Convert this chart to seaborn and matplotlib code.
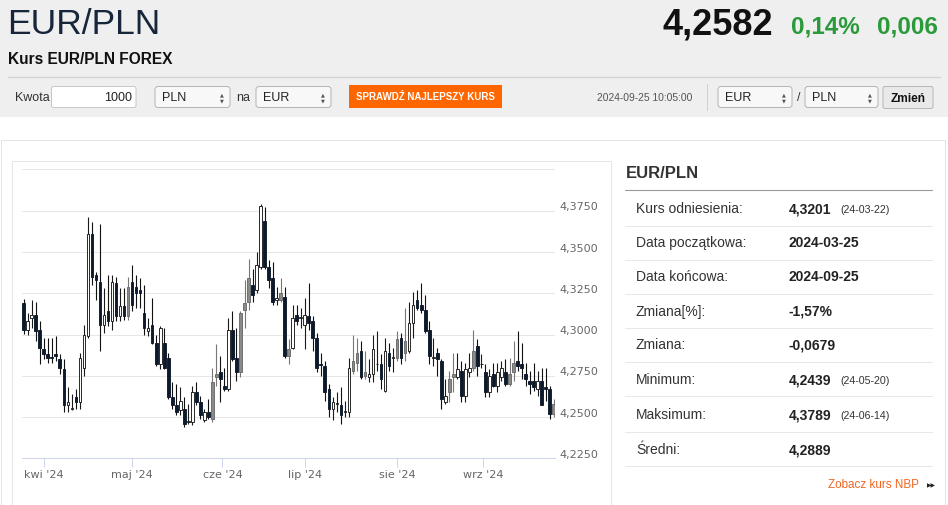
import numpy as np
import pandas as pd
import matplotlib
matplotlib.use("Agg")
import matplotlib.pyplot as plt
import matplotlib.transforms as mtransforms
from matplotlib.patches import Rectangle, FancyBboxPatch
import seaborn as sns

# ---------------- data ----------------
opens = [4.3194, 4.3030, 4.3100, 4.3120, 4.3030, 4.2910, 4.2880, 4.2865, 4.2880, 4.2850,
         4.2790, 4.2570, 4.2550, 4.2620, 4.2590, 4.2800, 4.2990, 4.3610, 4.3360, 4.3320,
         4.3060, 4.3140, 4.3080, 4.3310, 4.3110, 4.3170, 4.3110, 4.3320, 4.3290, 4.3270,
         4.3130, 4.3020, 4.3060, 4.2950, 4.2820, 4.2950, 4.2860, 4.2620, 4.2570, 4.2540,
         4.2550, 4.2470, 4.2470, 4.2650, 4.2590, 4.2480, 4.2530, 4.2490, 4.2740, 4.2770,
         4.2690, 4.2670, 4.3030, 4.2860, 4.2770, 4.3150, 4.3200, 4.3300, 4.3270, 4.3410,
         4.3690, 4.3410, 4.3340, 4.3210, 4.3210, 4.3230, 4.2870, 4.2920, 4.3120, 4.3100,
         4.3060, 4.3110, 4.3080, 4.2980, 4.2820, 4.2810, 4.2670, 4.2550, 4.2580, 4.2570,
         4.2530, 4.2530, 4.2780, 4.2830, 4.2900, 4.2750, 4.2740, 4.2760, 4.2820, 4.2820,
         4.2660, 4.2890, 4.2860, 4.2860, 4.2980, 4.2890, 4.2900, 4.3070, 4.3210, 4.3180,
         4.3150, 4.3030, 4.2860, 4.2890, 4.2840, 4.2590, 4.2650, 4.2740, 4.2740, 4.2780,
         4.2630, 4.2770, 4.2800, 4.2930, 4.2820, 4.2770, 4.2650, 4.2760, 4.2690, 4.2740,
         4.2770, 4.2700, 4.2770, 4.2840, 4.2820, 4.2760, 4.2720, 4.2720, 4.2670, 4.2720,
         4.2680, 4.2670, 4.2520]
highs = [4.3218, 4.3130, 4.3210, 4.3200, 4.3080, 4.2980, 4.2980, 4.2980, 4.2990, 4.2880,
         4.2850, 4.2680, 4.2640, 4.2670, 4.2890, 4.3060, 4.3710, 4.3680, 4.3380, 4.3670,
         4.3280, 4.3360, 4.3360, 4.3350, 4.3280, 4.3280, 4.3350, 4.3420, 4.3360, 4.3340,
         4.3300, 4.3100, 4.3220, 4.3000, 4.3050, 4.3040, 4.2890, 4.2710, 4.2700, 4.2680,
         4.2620, 4.2580, 4.2690, 4.2710, 4.2630, 4.2550, 4.2610, 4.2800, 4.2940, 4.2870,
         4.2800, 4.3100, 4.3140, 4.3040, 4.3140, 4.3330, 4.3460, 4.3400, 4.3500, 4.3789,
         4.3775, 4.3450, 4.3440, 4.3290, 4.3340, 4.3290, 4.2970, 4.3180, 4.3180, 4.3160,
         4.3220, 4.3315, 4.3110, 4.3010, 4.2890, 4.2840, 4.2700, 4.2620, 4.2650, 4.2680,
         4.2600, 4.2860, 4.3000, 4.2980, 4.2960, 4.2900, 4.2850, 4.3000, 4.3020, 4.2880,
         4.2980, 4.2950, 4.2920, 4.3020, 4.3010, 4.3160, 4.3200, 4.3260, 4.3270, 4.3310,
         4.3240, 4.3080, 4.2980, 4.2920, 4.2850, 4.2730, 4.2780, 4.2890, 4.2890, 4.2840,
         4.2830, 4.2890, 4.3030, 4.2970, 4.2880, 4.2820, 4.2790, 4.2830, 4.2830, 4.2840,
         4.2850, 4.2860, 4.2960, 4.3020, 4.2950, 4.2830, 4.2780, 4.2830, 4.2780, 4.2800,
         4.2800, 4.2690, 4.2610]
lows = [4.3006, 4.3000, 4.3040, 4.2960, 4.2820, 4.2850, 4.2830, 4.2830, 4.2840, 4.2760,
        4.2530, 4.2530, 4.2540, 4.2550, 4.2550, 4.2750, 4.2980, 4.3300, 4.3210, 4.2900,
        4.3010, 4.3050, 4.3030, 4.3080, 4.3080, 4.3090, 4.3090, 4.3140, 4.3160, 4.3160,
        4.3000, 4.2990, 4.2940, 4.2810, 4.2790, 4.2790, 4.2610, 4.2550, 4.2510, 4.2510,
        4.2439, 4.2460, 4.2450, 4.2570, 4.2490, 4.2470, 4.2490, 4.2470, 4.2690, 4.2590,
        4.2660, 4.2660, 4.2840, 4.2720, 4.2740, 4.3040, 4.3150, 4.3200, 4.3250, 4.3400,
        4.3400, 4.3280, 4.3180, 4.3180, 4.3200, 4.2860, 4.2820, 4.2910, 4.3060, 4.3040,
        4.2910, 4.3030, 4.2900, 4.2770, 4.2750, 4.2600, 4.2500, 4.2480, 4.2530, 4.2460,
        4.2500, 4.2500, 4.2760, 4.2780, 4.2730, 4.2730, 4.2710, 4.2710, 4.2780, 4.2670,
        4.2650, 4.2780, 4.2770, 4.2840, 4.2820, 4.2840, 4.2890, 4.2980, 4.3150, 4.3130,
        4.3010, 4.2820, 4.2810, 4.2750, 4.2550, 4.2580, 4.2590, 4.2650, 4.2730, 4.2590,
        4.2590, 4.2740, 4.2780, 4.2750, 4.2800, 4.2620, 4.2620, 4.2680, 4.2650, 4.2720,
        4.2690, 4.2690, 4.2720, 4.2780, 4.2730, 4.2690, 4.2640, 4.2660, 4.2630, 4.2570,
        4.2600, 4.2490, 4.2500]
closes = [4.3026, 4.3080, 4.3120, 4.3020, 4.2920, 4.2880, 4.2860, 4.2860, 4.2870, 4.2800,
          4.2570, 4.2590, 4.2553, 4.2590, 4.2860, 4.3000, 4.3610, 4.3350, 4.3330, 4.3060,
          4.3120, 4.3080, 4.3320, 4.3110, 4.3170, 4.3110, 4.3290, 4.3180, 4.3250, 4.3250,
          4.3040, 4.3040, 4.2950, 4.2820, 4.3040, 4.2800, 4.2620, 4.2570, 4.2530, 4.2600,
          4.2460, 4.2472, 4.2650, 4.2590, 4.2510, 4.2530, 4.2500, 4.2710, 4.2760, 4.2730,
          4.2670, 4.3030, 4.2850, 4.2770, 4.3130, 4.3190, 4.3340, 4.3240, 4.3420, 4.3780,
          4.3410, 4.3330, 4.3200, 4.3220, 4.3250, 4.2870, 4.2910, 4.3100, 4.3080, 4.3100,
          4.3120, 4.3070, 4.2980, 4.2800, 4.2818, 4.2650, 4.2550, 4.2590, 4.2582, 4.2510,
          4.2532, 4.2800, 4.2840, 4.2890, 4.2740, 4.2770, 4.2760, 4.2910, 4.2822, 4.2730,
          4.2900, 4.2810, 4.2862, 4.2970, 4.2860, 4.2960, 4.3070, 4.3180, 4.3160, 4.3150,
          4.3020, 4.2870, 4.2862, 4.2850, 4.2610, 4.2630, 4.2730, 4.2760, 4.2790, 4.2630,
          4.2790, 4.2800, 4.2900, 4.2810, 4.2822, 4.2650, 4.2750, 4.2690, 4.2770, 4.2800,
          4.2700, 4.2760, 4.2830, 4.2810, 4.2800, 4.2730, 4.2700, 4.2680, 4.2720, 4.2570,
          4.2670, 4.2520, 4.2582]
# candles drawn grey in the reference
grey_days = [26, 47, 48, 54, 55, 56, 64, 66, 82, 83, 85, 93, 95, 106, 107, 112, 121, 122, 132]

month_starts = ["2024-04-01", "2024-05-01", "2024-06-01", "2024-07-01", "2024-08-01", "2024-09-01"]
month_labels = ["kwi '24", "maj '24", "cze '24", "lip '24", "sie '24", "wrz '24"]
ytick_values = [4.225, 4.25, 4.275, 4.30, 4.325, 4.35, 4.375, 4.40]

dates = pd.bdate_range("2024-03-25", "2024-09-25")
df = pd.DataFrame({"date": dates, "open": opens, "high": highs, "low": lows, "close": closes})
df["pos"] = np.arange(len(df))

panel_labels = ["Kurs odniesienia:", "Data początkowa:", "Data końcowa:", "Zmiana[%]:",
                "Zmiana:", "Minimum:", "Maksimum:", "Średni:"]
panel_values = ["4,3201", "2024-03-25", "2024-09-25", "-1,57%", "-0,0679", "4,2439", "4,3789", "4,2889"]
panel_dates = ["(24-03-22)", "", "", "", "", "(24-05-20)", "(24-06-14)", ""]

# ---------------- figure ----------------
sns.set_theme(style="white")
plt.rcParams["font.family"] = ["DejaVu Sans"]
W, H = 948, 506
fig = plt.figure(figsize=(W / 100, H / 100), dpi=100)
fig.patch.set_facecolor("white")
PX = mtransforms.Affine2D().scale(1 / W, -1 / H).translate(0, 1) + fig.transFigure
LIB = ["Liberation Sans", "DejaVu Sans"]


def rect(x0, y0, x1, y1, rounding=0, **kw):
    if rounding:
        p = FancyBboxPatch((x0, y0), x1 - x0, y1 - y0,
                           boxstyle=f"round,pad=0,rounding_size={rounding}",
                           transform=PX, **kw)
    else:
        p = Rectangle((x0, y0), x1 - x0, y1 - y0, transform=PX, **kw)
    fig.patches.append(p)


def line(x0, y0, x1, y1, color, lw=0.72):
    fig.add_artist(plt.Line2D([x0, x1], [y0, y1], transform=PX, color=color, lw=lw))


def txt(x, y, s, **kw):
    kw.setdefault("family", LIB)
    kw.setdefault("va", "center")
    fig.text(x, y, s, transform=PX, **kw)


# header
rect(0, 0, W, 118, facecolor="#efefef", edgecolor="none")
txt(7, 24, "EUR/PLN", fontsize=25.5, color="#17263a")
txt(773, 25, "4,2582", fontsize=26, weight="bold", color="#111111", ha="right")
txt(860, 27, "0,14%", fontsize=17.5, weight="bold", color="#2a9a3a", ha="right")
txt(938, 27, "0,006", fontsize=17.5, weight="bold", color="#2a9a3a", ha="right")
txt(8, 60, "Kurs EUR/PLN FOREX", fontsize=11.2, weight="bold", color="#111111")
line(8, 77.5, 940, 77.5, "#d2d2d2", lw=0.9)

txt(15, 98, "Kwota", fontsize=9, color="#333333")
rect(51.5, 87.5, 136, 108.5, rounding=2, facecolor="white", edgecolor="#c8c8c8", lw=0.72)
txt(132, 98, "1000", fontsize=9, color="#222222", ha="right")


def select(x0, x1, label):
    rect(x0, 87.5, x1, 108.5, rounding=3, facecolor="#f8f8f8", edgecolor="#b5b5b5", lw=0.72)
    txt(x0 + 7, 98, label, fontsize=9, color="#222222")
    txt(x1 - 8, 95, "▲", fontsize=3.6, color="#555555", ha="center", family=["DejaVu Sans"])
    txt(x1 - 8, 101, "▼", fontsize=3.6, color="#555555", ha="center", family=["DejaVu Sans"])


select(155, 230, "PLN")
txt(236, 98, "na", fontsize=9, color="#333333")
select(256, 331, "EUR")
rect(349.5, 85.5, 502, 109, facecolor="#ff6600", edgecolor="none")
txt(425.5, 97.5, "SPRAWDŹ NAJLEPSZY KURS", fontsize=7.0, weight="bold", color="white", ha="center")
txt(597, 98.5, "2024-09-25 10:05:00", fontsize=7.4, color="#555555")
line(707.5, 85, 707.5, 111, "#d0d0d0")
select(718, 792, "EUR")
txt(797, 98, "/", fontsize=9, color="#333333")
select(805, 878, "PLN")
rect(883, 87.5, 933, 109.5, rounding=2, facecolor="#e9e9e9", edgecolor="#b8b8b8", lw=0.72)
txt(908, 99, "Zmień", fontsize=8.6, weight="bold", color="#111111", ha="center")

# containers
rect(0.5, 140.5, 945.5, 530, facecolor="none", edgecolor="#e4e4e4", lw=0.72)
rect(12.5, 161.5, 611.5, 530, facecolor="none", edgecolor="#e6e6e6", lw=0.72)

# right panel
txt(626, 174, "EUR/PLN", fontsize=12, weight="bold", color="#333333")
line(625, 190.5, 932, 190.5, "#9a9a9a", lw=0.8)
row_y = [209.3, 243.3, 277.3, 312, 345.5, 380.5, 415.5, 450.5]
sep_y = [226.7, 260.7, 294.7, 328.7, 362.7, 397.3, 433.3, 467.3]
for yy in sep_y:
    line(625, yy, 932, yy, "#e8e8e8")
for yy, lab, val, dt in zip(row_y, panel_labels, panel_values, panel_dates):
    txt(636, yy, lab, fontsize=10, color="#333333")
    txt(789, yy, val, fontsize=10, weight="bold", color="#222222")
    if dt:
        txt(840, yy + 0.5, dt, fontsize=7.7, color="#333333")
txt(919, 485, "Zobacz kurs NBP", fontsize=8.4, color="#f26522", ha="right")
txt(927, 485.5, "▶▶", fontsize=4.2, color="#222222", family=["DejaVu Sans"])

# ---------------- candlestick chart ----------------
ax_left, ax_right, ax_top, ax_bot = 22, 555, 170, 459.3
ax = fig.add_axes([ax_left / W, 1 - ax_bot / H, (ax_right - ax_left) / W, (ax_bot - ax_top) / H])
ax.set_facecolor("none")

up = df["close"] >= df["open"]
grey = df["pos"].isin(grey_days)
kind = np.where(~up, "down", np.where(grey, "grey", "up"))
style = {
    "down": dict(face="#0e1a2b", edge="#0e1a2b", wick="#111111"),
    "up": dict(face="#ffffff", edge="#1a1a1a", wick="#1a1a1a"),
    "grey": dict(face="#8a8a8a", edge="#6a6a6a", wick="#777777"),
}
min_body = 0.0004
for k, st in style.items():
    sub = df[kind == k]
    ax.vlines(sub["pos"], sub["low"], sub["high"], colors=st["wick"], lw=0.8, zorder=2)
    lo = np.minimum(sub["open"], sub["close"])
    hgt = np.abs(sub["close"] - sub["open"])
    hgt = np.maximum(hgt, min_body)
    ax.bar(sub["pos"], hgt, bottom=lo, width=0.66, color=st["face"],
           edgecolor=st["edge"], linewidth=0.65, zorder=3)

ax.set_xlim(-0.42, 132.33)
ax.set_ylim(4.225, 4.4003)
ax.yaxis.set_ticks_position("right")
ax.set_yticks(ytick_values)
ax.set_yticklabels([("%.4f" % v).replace(".", ",") if v < 4.39 else "" for v in ytick_values])
ax.tick_params(axis="y", length=0, pad=3, labelsize=8, labelcolor="#666666")
offset = mtransforms.ScaledTranslation(0, 5.5 / 100, fig.dpi_scale_trans)
for lab in ax.get_yticklabels():
    lab.set_transform(lab.get_transform() + offset)
ax.grid(axis="y", color="#e6e6e6", lw=0.72)
ax.grid(axis="x", visible=False)
ax.set_axisbelow(True)

tick_pos = []
for m in month_starts:
    d = pd.Timestamp(m)
    i = int(np.searchsorted(df["date"].values, np.datetime64(d)))
    tick_pos.append(i if d.weekday() < 5 else i - 0.5)
ax.set_xticks(tick_pos)
ax.set_xticklabels(month_labels)
ax.tick_params(axis="x", direction="out", length=6.5, width=0.72, color="#ccd6eb",
               pad=1.5, labelsize=8, labelcolor="#666666", bottom=True)
sns.despine(ax=ax, left=True, right=True, top=True)
ax.spines["bottom"].set_color("#ccd6eb")
ax.spines["bottom"].set_linewidth(0.72)

fig.savefig("out.png", dpi=100)
